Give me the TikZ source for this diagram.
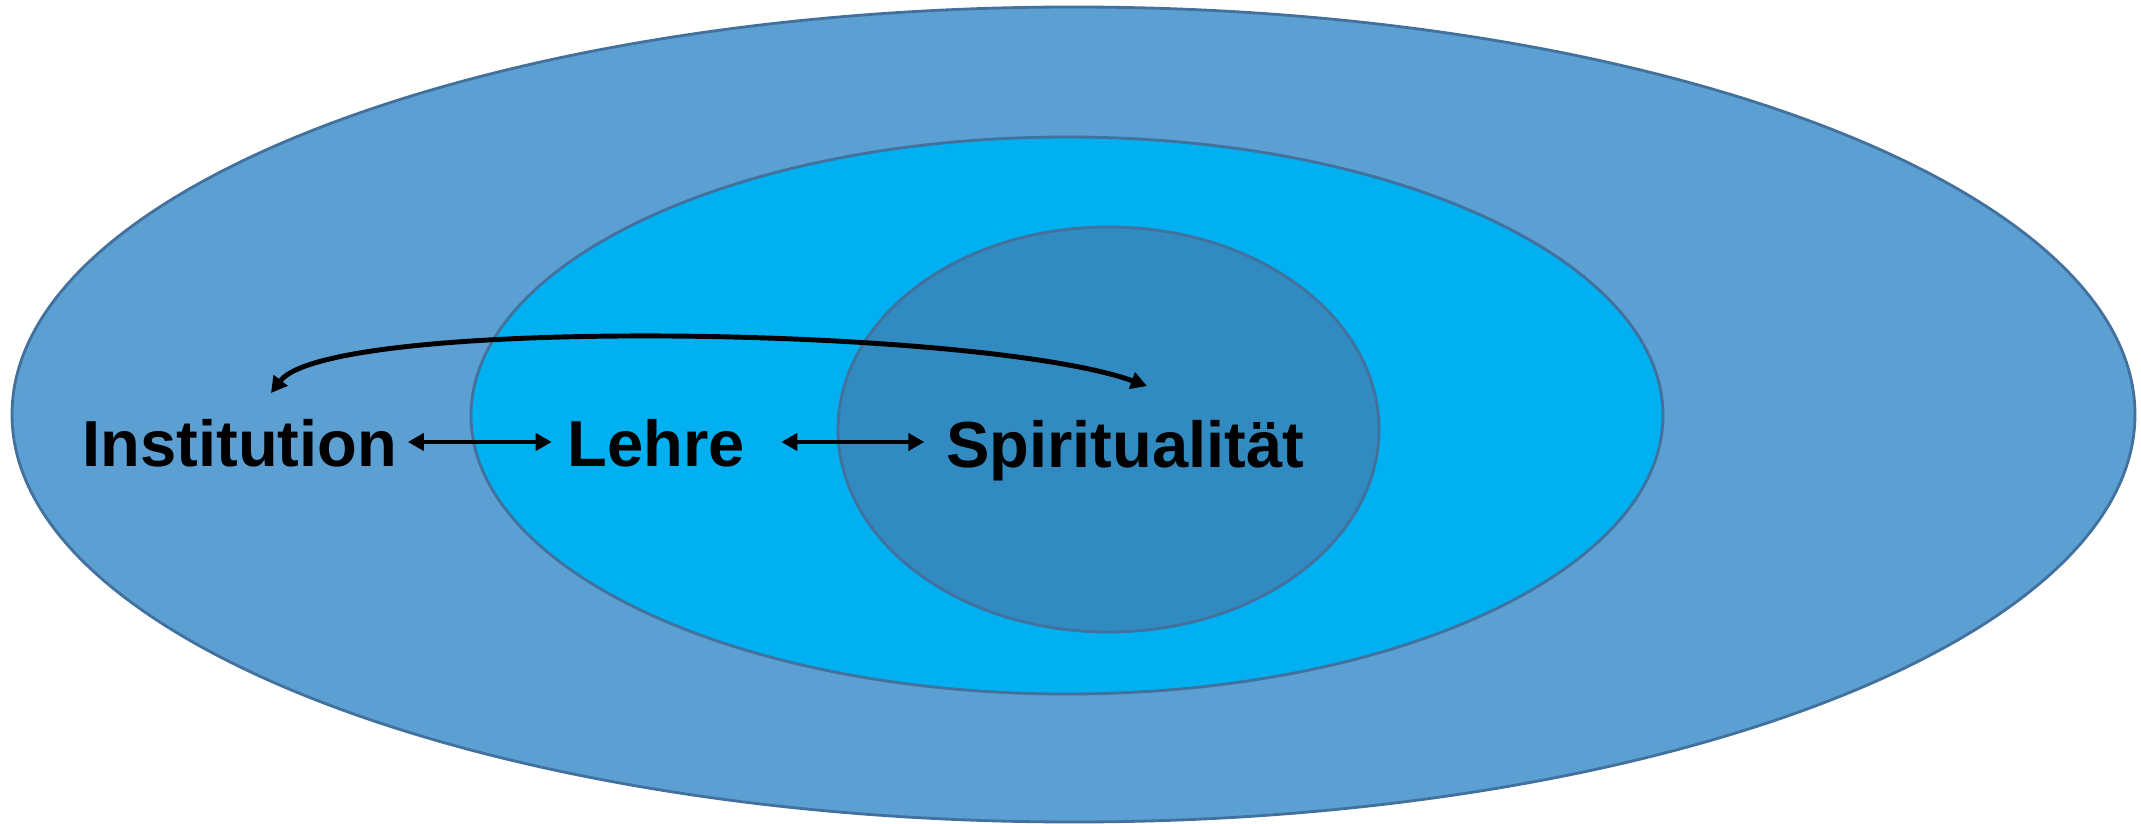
\documentclass[tikz,border=0pt]{standalone}
\usepackage{fontspec}
\setmainfont{Liberation Sans}
\usetikzlibrary{arrows.meta,calc}
\definecolor{outerblue}{RGB}{91,159,211}
\definecolor{midblue}{RGB}{0,176,240}
\definecolor{innerblue}{RGB}{50,139,192}
\definecolor{rimblue}{RGB}{65,113,156}
\tikzset{
  ring/.style={draw=rimblue,line width=0.8pt},
  lbl/.style={anchor=base,inner sep=0pt,font=\fontsize{18.5}{22}\selectfont\bfseries,text height=0.48cm,text depth=0pt},
  dbl/.style={line width=1.4pt,{Triangle[length=1.6mm,width=1.7mm]}-{Triangle[length=1.6mm,width=1.7mm]}}
}
\begin{document}
\begin{tikzpicture}[x=0.01cm,y=-0.01cm]
\useasboundingbox (0,0) rectangle (2141,824);
\fill[white] (0,0) rectangle (2141,824);
\draw[ring,fill=outerblue] (1073.5,414.5) ellipse [x radius=1061.5,y radius=407.5];
\draw[ring,fill=midblue] (1067,415.5) ellipse [x radius=596,y radius=278.5];
\draw[ring,fill=innerblue] (1108.5,429.5) ellipse [x radius=270.5,y radius=202.5];
\node[lbl] (inst) at (240,466) {Institution};
\node[lbl] (lehre) at (656,466) {Lehre};
\node[lbl] (spir) at (1125,467) {Spiritualität};
\draw[dbl] ([xshift=0.1cm]inst.east) -- ([xshift=-0.15cm]lehre.west);
\draw[dbl] ([xshift=0.36cm]lehre.east) -- ([xshift=-0.21cm]spir.west |- lehre.east);
\coordinate (cs) at (1147,386);
\coordinate (ce) at (271,393);
\draw[dbl] (cs) .. controls (980,326) and (330,316) .. (ce);
\end{tikzpicture}
\end{document}
